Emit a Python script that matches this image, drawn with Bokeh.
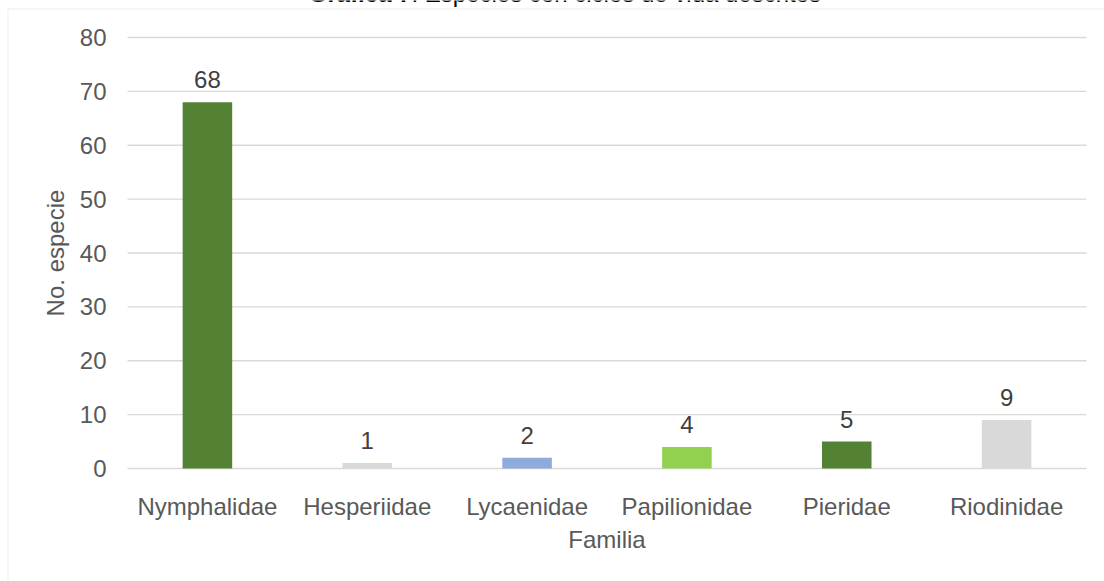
from bokeh.plotting import figure
from bokeh.models import (ColumnDataSource, Range1d, FixedTicker,
                          LabelSet, Label, PolyAnnotation)
from bokeh.core.properties import value
from bokeh.embed import file_html
from bokeh.resources import INLINE

# ---- data ----
familias = ["Nymphalidae", "Hesperiidae", "Lycaenidae", "Papilionidae", "Pieridae", "Riodinidae"]
especies = [68, 1, 2, 4, 5, 9]
colores = ["#548235", "#d9d9d9", "#8faadc", "#92d050", "#548235", "#d9d9d9"]
y_ticks = [0, 10, 20, 30, 40, 50, 60, 70, 80]

titulo_negrita = "Gráfica 7"
titulo_resto = ": Especies con ciclos de vida descritos"
eje_x = "Familia"
eje_y = "No. especie"

FONT = "Liberation Sans"
W, H = 1104, 581
FL, FR, FT, FB = 127, 1086, 37, 468   # plot-area edges in pixels
YMAX = 80

n = len(familias)
xpos = list(range(n))
CW = (FR - FL) / n
YS = (FB - FT) / YMAX

def dx(px):
    return (px - FL) / CW - 0.5

def dy(py):
    return (FB - py) / YS

src = ColumnDataSource(dict(x=xpos, val=especies, col=colores,
                            lbl=[str(v) for v in especies]))

# the frame covers the whole canvas; axes are fixed inside it
p = figure(x_range=Range1d(dx(0), dx(W)), y_range=Range1d(dy(H), dy(0)),
           width=W, height=H, output_backend="svg", toolbar_location=None,
           min_border=0)
p.outline_line_color = None
p.background_fill_color = "white"
p.border_fill_color = "white"
p.xgrid.visible = False
p.ygrid.visible = False

# horizontal gridlines across the plot area
p.segment(x0=[xpos[0] - 0.5] * len(y_ticks), x1=[xpos[-1] + 0.5] * len(y_ticks),
          y0=y_ticks, y1=y_ticks, line_color="#d9d9d9", line_width=1.3)

p.vbar(x="x", top="val", width=0.31, fill_color="col", line_color=None, source=src)

p.add_layout(LabelSet(x="x", y="val", text="lbl", source=src, text_align="center",
                      text_baseline="alphabetic", y_offset=14,
                      text_font=value(FONT), text_font_size="24px", text_color="#404040"))

# y axis
ya = p.yaxis[0]
ya.fixed_location = xpos[0] - 0.5
ya.bounds = (y_ticks[0], y_ticks[-1])
ya.ticker = FixedTicker(ticks=y_ticks)
ya.axis_line_color = None
ya.major_tick_line_color = None
ya.minor_tick_line_color = None
ya.major_label_standoff = 15
ya.axis_label = eje_y
ya.axis_label_standoff = 8

# x axis
xa = p.xaxis[0]
xa.fixed_location = 0
xa.bounds = (xpos[0] - 0.5, xpos[-1] + 0.5)
xa.ticker = FixedTicker(ticks=xpos)
xa.major_label_overrides = {i: f for i, f in zip(xpos, familias)}
xa.axis_line_color = None
xa.major_tick_line_color = None
xa.minor_tick_line_color = None
xa.major_label_standoff = 18
xa.axis_label = eje_x
xa.axis_label_standoff = 3

for ax in (xa, ya):
    ax.major_label_text_font = FONT
    ax.major_label_text_font_size = "24px"
    ax.major_label_text_color = "#595959"
    ax.axis_label_text_font = FONT
    ax.axis_label_text_font_size = "24px"
    ax.axis_label_text_font_style = "normal"
    ax.axis_label_text_color = "#595959"

# chart-area border (extends beyond window at right and bottom)
bx0, by0, bx1, by1 = dx(7.5), dy(8.5), dx(W + 40), dy(H + 40)
p.add_layout(PolyAnnotation(xs=[bx0, bx0, bx1, bx1], ys=[by1, by0, by0, by1],
                            fill_color=None, fill_alpha=0,
                            line_color="#d9d9d9", line_width=1.5))

# title (partly cut at the top edge, as in the reference)
split_x = dx(411)
base_y = dy(-7)
p.add_layout(Label(x=split_x, y=base_y, text=titulo_negrita, text_align="right",
                   text_baseline="alphabetic", text_font=FONT, text_font_size="24px",
                   text_font_style="bold", text_color="#000000"))
p.add_layout(Label(x=split_x, y=base_y, text=titulo_resto, text_align="left",
                   text_baseline="alphabetic", text_font=FONT, text_font_size="24px",
                   text_color="#000000"))

open("out.html", "w").write(file_html(p, INLINE))
